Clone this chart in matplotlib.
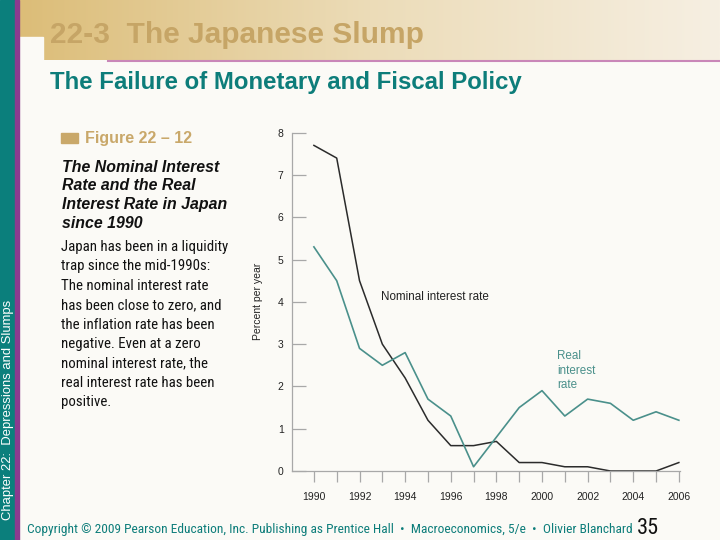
import numpy as np
import matplotlib.pyplot as plt
from matplotlib.patches import Rectangle
from matplotlib.colors import LinearSegmentedColormap

years = list(range(1990, 2007))
nominal_rate = [7.7, 7.4, 4.5, 3.0, 2.2, 1.2, 0.6, 0.6, 0.7, 0.2, 0.2, 0.1, 0.1, 0.0, 0.0, 0.0, 0.2]
real_rate = [5.3, 4.5, 2.9, 2.5, 2.8, 1.7, 1.3, 0.1, 0.8, 1.5, 1.9, 1.3, 1.7, 1.6, 1.2, 1.4, 1.2]
year_labels = [str(y) if y % 2 == 0 else '' for y in years]
y_ticks = list(range(0, 9))

body_lines = [
    'Japan has been in a liquidity',
    'trap since the mid-1990s:',
    'The nominal interest rate',
    'has been close to zero, and',
    'the inflation rate has been',
    'negative. Even at a zero',
    'nominal interest rate, the',
    'real interest rate has been',
    'positive.',
]
title_lines = ['The Nominal Interest', 'Rate and the Real',
               'Interest Rate in Japan', 'since 1990']

TEAL = '#0d7d7a'
TAN = '#c9a86a'
BG = '#fbfaf6'
narrow = ['Roboto Condensed', 'Archivo Narrow', 'Liberation Sans', 'DejaVu Sans']
sans = ['Liberation Sans', 'DejaVu Sans']

fig = plt.figure(figsize=(7.2, 5.4), dpi=100)
fig.patch.set_facecolor(BG)

# slide decoration in pixel coordinates
bg = fig.add_axes([0, 0, 1, 1])
bg.axis('off')
cmap = LinearSegmentedColormap.from_list('band', ['#dcbd78', '#ecdcb8', '#f6efe2'])
grad = np.linspace(0, 1, 256).reshape(1, -1)
bg.imshow(grad, cmap=cmap, extent=(19, 720, 60, 0), aspect='auto')
bg.add_patch(Rectangle((19, 37), 24, 30, color=BG, zorder=2))
bg.add_patch(Rectangle((0, 0), 15, 540, color='#0b7f7c', zorder=3))
bg.add_patch(Rectangle((15, 0), 4, 540, color='#8b3a8f', zorder=3))
bg.plot([108, 720], [60.5, 60.5], color='#c987b8', lw=1.5, zorder=3)
bg.set_xlim(0, 720)
bg.set_ylim(540, 0)

bg.text(50, 35, '22-3  The Japanese Slump', fontsize=21.5, fontweight='bold',
        color='#c6a566', va='center', family=sans)
bg.text(50, 82, 'The Failure of Monetary and Fiscal Policy', fontsize=17.3,
        fontweight='bold', color=TEAL, va='center', family=sans)
bg.text(8, 410, 'Chapter 22:  Depressions and Slumps', fontsize=9.4, color='white',
        rotation=90, va='center', ha='center', family=sans, zorder=4)

bg.add_patch(Rectangle((61, 133), 17, 10, color=TAN))
bg.text(85, 138, 'Figure 22 \u2013 12', fontsize=11.5, fontweight='bold', color=TAN,
        va='center', family=sans)
for i, line in enumerate(title_lines):
    bg.text(62, 167 + i * 19, line, fontsize=11.4, fontweight='bold', style='italic',
            color='#111111', va='center', family=sans)
for i, line in enumerate(body_lines):
    bg.text(61, 247 + i * 19.4, line, fontsize=10.7, color='#111111', va='center',
            family=narrow)

bg.text(27, 530, 'Copyright \u00a9 2009 Pearson Education, Inc. Publishing as Prentice Hall  \u2022  '
        'Macroeconomics, 5/e  \u2022  Olivier Blanchard', fontsize=9.6, color=TEAL,
        va='center', family=narrow)
bg.text(637, 529, '35', fontsize=16, color='#111111', va='center', family=narrow)

# chart
ax = fig.add_axes([292 / 720, 69 / 540, 388 / 720, 338.3 / 540])
ax.set_facecolor('none')
ax.plot(years, nominal_rate, color='#2b2b2b', lw=1.1)
ax.plot(years, real_rate, color='#4a908b', lw=1.2)
ax.set_xlim(1989.04, 2006.05)
ax.set_ylim(0, 8)
ax.set_xticks(years)
ax.set_xticklabels(year_labels)
ax.set_yticks(y_ticks)
for s in ['top', 'right']:
    ax.spines[s].set_visible(False)
for s in ['left', 'bottom']:
    ax.spines[s].set_color('#a8a8a8')
    ax.spines[s].set_linewidth(0.9)
ax.tick_params(axis='x', direction='out', length=8, width=0.9, color='#a8a8a8',
               labelsize=7.5, pad=7, labelcolor='#222222')
ax.tick_params(axis='y', direction='in', length=10, width=0.9, color='#a8a8a8',
               labelsize=7.5, pad=6, labelcolor='#222222')
for lab in ax.get_xticklabels() + ax.get_yticklabels():
    lab.set_family(sans)
ax.set_ylabel('Percent per year', fontsize=7.5, color='#222222', family=sans, labelpad=11)
ax.text(1992.95, 4.12, 'Nominal interest rate', fontsize=8.4, color='#222222',
        va='center', family=sans)
ax.text(2000.66, 2.37, 'Real\ninterest\nrate', fontsize=8.4, color='#4a908b',
        va='center', linespacing=1.3, family=sans)

fig.savefig('out.png', dpi=100, facecolor=fig.get_facecolor())
